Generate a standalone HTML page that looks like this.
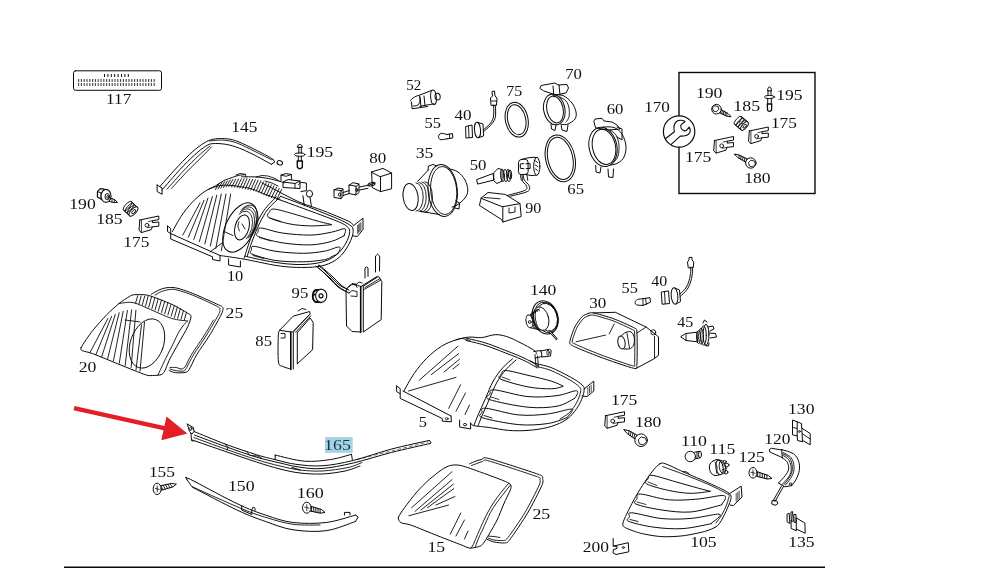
<!DOCTYPE html>
<html><head><meta charset="utf-8"><title>Headlamp parts diagram</title>
<style>
html,body{margin:0;padding:0;background:#fff;width:981px;height:569px;overflow:hidden}
svg{position:absolute;left:0;top:0;display:block}
</style></head><body>
<svg width="981" height="569" viewBox="0 0 981 569">
<rect x="325.1" y="437.1" width="27.6" height="15.7" fill="#a6d3e4"/>
<g fill="none" stroke="#0a0a0a" stroke-width="1" stroke-linejoin="round" stroke-linecap="round">
<rect x="679" y="72.5" width="136" height="121" stroke-width="1.4" stroke-linejoin="miter"/>
<line x1="64" y1="567.3" x2="825" y2="567.3" stroke-width="1.6" stroke-linecap="butt"/>
<line x1="74" y1="408.2" x2="165" y2="428.3" stroke="#e31e24" stroke-width="4.4" stroke-linecap="butt"/>
<polygon points="166.5,416.6 187.4,433.6 161.3,440.3" fill="#e31e24" stroke="none"/>
<rect x="73.5" y="70.8" width="88" height="19.5" rx="2"/>
<line x1="104" y1="75.5" x2="129" y2="75.5" stroke-width="3" stroke-dasharray="1,2.4" stroke-linecap="butt"/>
<line x1="78" y1="80.5" x2="156" y2="80.5" stroke-width="3" stroke="#555" stroke-dasharray="1.2,1.6" stroke-linecap="butt"/>
<line x1="78" y1="84.6" x2="156" y2="84.6" stroke-width="3" stroke="#555" stroke-dasharray="1.2,1.6" stroke-linecap="butt"/>
<circle cx="679.1" cy="131.5" r="15.7" fill="#fff" stroke-width="1.2"/>
<path d="M665.7,138.5 L674.4,131.8 C673.5,128 673.8,124 676.4,121.5 C678.5,119.8 682.5,119.8 685,121.5 L680.8,125.2 C680.6,127 681,128.5 682.2,129.6 C683.5,130.8 685.5,131 686.6,130.2 L689.2,127 C690.6,129.5 690.4,132.5 688.6,134.2 C686.8,136 683.5,136.2 680.3,136.1 L671.2,144.4" stroke-width="1.1"/>
<path d="M167.5,226 L170.7,228.5 L170.7,239 L212.5,256.8 L212.5,259.5 L220,261 L220,255.5"/>
<path d="M170.7,233.6 L220,255.5"/>
<path d="M167.5,226 L167.5,231.5 L170.7,233.6"/>
<path d="M228.6,258.8 L228.6,265 L240.4,267 L240.4,261"/>
<path d="M172.5,231.5 C173.9,229 177.8,221.3 181,216.5 C184.2,211.7 188.2,206.6 192,202.5 C195.8,198.4 200.1,194.8 204,192 C207.9,189.2 212.3,187.7 215.6,185.8 C218.9,183.9 221.2,181.9 224,180.5 C226.8,179.1 230,178.3 232.5,177.4 C235,176.5 236.7,175.8 238.8,175.3 C240.9,174.9 244.1,174.8 245.2,174.7"/>
<path d="M241.5,176.8 C244.1,176.8 252.5,176.7 257,177 C261.5,177.3 264.8,177.9 268.6,178.6 C272.4,179.3 277.4,180.7 280,181.4 C282.6,182.1 283.3,182.7 284,183"/>
<path d="M262,183 C263.3,183.7 266.2,185 270,187 C273.8,189 279.7,192.3 285,195 C290.3,197.7 295.3,200.4 301.6,203 C307.9,205.6 316.3,208.1 322.7,210.5 C329.1,212.9 335.4,215.6 340,217.5 C344.6,219.4 347.8,220.8 350,222 C352.2,223.2 352.5,224.5 353,225"/>
<path d="M209,189 C210.8,188.4 216.3,186.2 220,185.6 C223.7,185 227.3,185.2 231,185.4 C234.7,185.6 238.5,186.4 242,187 C245.5,187.6 247.8,187.7 252,189 C256.2,190.3 262.3,193.3 267,195 C271.7,196.7 277.8,198.6 280,199.3"/>
<path d="M215.3,189.7L219.4,183.1M218,189L222.1,182.3M220.7,188.3L224.8,181.6M223.4,187.6L227.5,180.8M226.1,187L230.2,180M228.8,186.6L232.9,179.4M231.6,187L235.7,179.2M234.3,187.3L238.6,179M237.1,187.7L241.4,178.8M239.8,188.1L244.2,178.6M242.6,188.4L247,178.6M245.3,189L249.8,179M248,189.6L252.6,179.4M250.7,190.2L255.4,179.8M253.4,190.7L258.1,180.2M256.1,191.3L260.9,180.8M258.7,192.3L263.5,181.8M261.2,193.4L266.2,182.8M263.8,194.6L268.8,183.8M266.3,195.7L271.4,184.8M268.8,196.8L274,185.9M271.5,197.7L276.6,187.1M274.1,198.6L279.2,188.3M276.7,199.5L281.7,189.4" stroke-width="0.9"/>
<path d="M182.8,235.1L200,202.8M188.3,237.3L204,200.4M193.8,239.5L208,198M199.3,241.7L212.4,196.5M204.8,243.9L216.8,195.1M210.3,246.1L221.3,194M215.8,248.5L226,194M221.3,250.8L230.7,194" stroke-width="0.9"/>
<path d="M280.8,196.4 C278.7,198.5 271.6,204.6 268.1,209 C264.6,213.4 262.3,217.9 259.7,223.1 C257.1,228.3 254.7,234.4 252.6,240 C250.5,245.6 247.9,254 247,256.8"/>
<path d="M276,197 C274,199.2 267.3,205.7 263.9,210.5 C260.5,215.3 258,220.6 255.5,226 C253,231.4 251,237.4 249.1,242.8 C247.2,248.2 245,255.6 244.2,258.2"/>
<ellipse cx="240" cy="227.5" rx="14.2" ry="26.5" transform="rotate(26 240 227.5)"/>
<ellipse cx="242" cy="227.4" rx="7" ry="12.8" transform="rotate(15 242 227.4)"/>
<path d="M239.0,214.2 A8.2,13.8 15 0 1 246.4,238.7" stroke-width="0.85"/>
<path d="M240.2,212.0 A8.8,14.6 15 0 1 248.1,238.0" stroke-width="0.85"/>
<path d="M241.3,210.1 A9.2,15.2 15 0 1 249.6,237.1" stroke-width="0.85"/>
<path d="M242.6,208.5 A9.4,15.6 15 0 1 251.1,236.3" stroke-width="0.85"/>
<path d="M239,222 C238.8,222.7 237.9,224.5 238,226 C238.1,227.5 239.2,230.2 239.5,231" stroke-width="0.9"/>
<path d="M242,224 L245,229" stroke-width="0.9"/>
<path d="M225,231.9 L233,235.6" stroke-width="0.9"/>
<path d="M210,252 L222,243" stroke-width="0.9"/>
<path d="M280.8,196.4 C284.5,197.8 295.9,202 303.2,204.8 C310.4,207.6 318,210.7 324.3,213.3 C330.6,215.9 336.8,218.2 341.2,220.3 C345.6,222.4 349,224.3 351,225.9 C353,227.5 352.9,228.4 353.1,230.1 C353.3,231.8 353.2,233.2 352.4,235.8 C351.6,238.4 350.1,242.3 348.2,245.6 C346.3,248.9 344,252.6 341.2,255.4 C338.4,258.2 335.4,260.6 331.4,262.5 C327.4,264.4 323.2,265.9 317.3,266.7 C311.4,267.5 303.2,267.6 296.2,267.4 C289.2,267.2 282.1,266.4 275.1,265.3 C268.1,264.2 259.9,262.2 254.1,261.1 C248.3,260 246.1,259.4 240.4,258.5 C234.7,257.6 223.4,256 220,255.5"/>
<path d="M278,199.2 C282.2,200.7 293.1,204.7 303.2,208.4 C313.3,212.2 330.9,218.5 338.4,221.7 C345.9,224.9 346.1,225.6 348,227.5 C349.9,229.4 349.8,230.4 349.5,233 C349.2,235.6 347.8,239.8 346,243 C344.2,246.2 341.8,249.8 339,252.5 C336.2,255.2 333,257.7 329,259.5 C325,261.3 320.5,262.7 315,263.5 C309.5,264.3 302.5,264.7 296,264.5 C289.5,264.3 282.8,263.5 276,262.5 C269.2,261.5 260.2,259.6 255,258.5 C249.8,257.4 246.7,256.4 245,256"/>
<path d="M331.4,224.5 C329,223.9 323.2,222.6 317.3,221 C311.4,219.4 303.4,216.7 296.2,214.7 C289,212.7 278.8,209.5 274.4,209.1 C269.9,208.7 270.4,210.6 269.5,212 C268.6,213.4 265.5,215.5 268.8,217.5 C272.1,219.5 282.3,222.4 289.2,223.8 C296.1,225.2 303.3,225.7 310.3,225.9 C317.3,226.1 327.9,225 331.4,224.8"/>
<path d="M344,235.8 C344.2,235.1 345.4,232.7 345.4,231.5 C345.4,230.3 346.3,228.6 344,228.7 C341.7,228.8 337,231.1 331.4,232.2 C325.8,233.3 318.5,235 310.3,235.1 C302.1,235.2 290.4,234.2 282.2,233 C274,231.8 265.1,228.2 261.1,228 C257.1,227.8 258.5,230.6 258,232 C257.5,233.4 254.3,234.7 258.3,236.5 C262.3,238.3 273.5,241.4 282.2,242.8 C290.9,244.2 302.1,245.1 310.3,244.9 C318.5,244.7 325.8,242.9 331.4,241.4 C337,239.9 341.9,236.7 344,235.8"/>
<path d="M331.4,256.8 C332.3,256.3 335.6,255.2 337,254 C338.4,252.8 339.6,251 339.8,249.8 C340,248.6 341,246.8 338.4,247 C335.8,247.2 330.2,250.1 324.3,251.2 C318.4,252.2 311.4,253.3 303.2,253.3 C295,253.3 283.3,252.4 275.1,251.2 C266.9,250 258,246.5 254.1,246.3 C250.2,246.1 251.8,248.7 251.5,250 C251.2,251.3 248.1,252.3 252,254 C255.9,255.7 266.6,259.1 275.1,260.4 C283.6,261.7 295,261.9 303.2,261.8 C311.4,261.7 319.6,260.5 324.3,259.7 C329,258.9 330.2,257.3 331.4,256.8"/>
<path d="M270,218 L281,221.5" stroke-width="0.8"/>
<path d="M259.5,237.5 L271,241" stroke-width="0.8"/>
<path d="M253,255.5 L264,258.5" stroke-width="0.9"/>
<path d="M353.1,226 L363,218.2 L363,229.5 L357.4,236.5 L352.4,235.8"/>
<path d="M357.6,225.5L357.6,233.5M358.7,224.5L358.7,232.5M359.8,223.5L359.8,231.5M360.9,222.5L360.9,230.5" stroke-width="0.7"/>
<path d="M281,180.5 L281,175 L286,173.6 L291.4,174.5 L291.4,179.5"/>
<path d="M281,175 L286,176.3 L291.4,174.5" stroke-width="0.9"/>
<path d="M283,182 L288,179.5 L300,181 L300,188.5 L283,187.5 L283,182 L295,183.5 L300,181"/>
<path d="M295,183.5 L295,188" stroke-width="0.9"/>
<path d="M298.6,184.5 L300.5,182.3 L306.4,183 L306.4,190.7 L301,191.5"/>
<ellipse cx="309.5" cy="193.8" rx="3.1" ry="3.4"/>
<path d="M302.9,195.7 L304.3,205.7"/>
<path d="M310,197 L311.4,206.5"/>
<path d="M236,175 L240,173.5 L245.5,174.3 L246,177" stroke-width="0.9"/>
<path d="M256,177 L262,175.5 L268,176 L275,178.5 L279,181" stroke-width="0.9"/>
<path d="M265,181 L272,183 L278,186" stroke-width="0.9"/>
<path d="M316,266 C317,266.8 319.7,269 322,271 C324.3,273 327.2,275.3 330,278 C332.8,280.7 335.8,284.5 339,287 C342.2,289.5 347.3,292 349,293" stroke-width="1"/>
<path d="M319,265 C320,265.8 322.7,268 325,270 C327.3,272 330.3,274.5 333,277 C335.7,279.5 338.3,282.8 341,285 C343.7,287.2 347.7,289.2 349,290" stroke-width="1"/>
<path d="M160,186.4 C163.1,182.9 173.1,171.5 178.6,165.7 C184.1,159.9 188.6,155.2 192.9,151.4 C197.2,147.6 201,144.9 204.3,142.9 C207.6,140.9 209.6,140 212.9,139.3 C216.2,138.6 220.5,138.4 224.3,138.6 C228.1,138.8 231.4,139.3 235.7,140.7 C240,142.1 245.2,144.8 250,147.1 C254.8,149.4 260.5,152.3 264.3,154.3 C268.1,156.3 271.5,158.5 272.9,159.3"/>
<path d="M162,190 C165,186.6 174.6,175.3 180,169.5 C185.4,163.7 190,159.1 194.3,155.2 C198.6,151.3 202.6,148.1 205.7,146.2 C208.8,144.3 209.6,143.9 212.9,143.6 C216.2,143.3 221.4,143.6 225.7,144.3 C230,145 234.1,146.2 238.6,147.9 C243.1,149.6 247.4,151.6 252.9,154.3 C258.4,157 268.3,162.6 271.4,164.3"/>
<path d="M167.1,189.1 C170,185.9 179.1,175.6 184.3,170 C189.6,164.4 194.3,159.7 198.6,155.7 C202.9,151.7 208.1,147.6 210,146" stroke-width="0.9"/>
<path d="M171.4,188.5 C174,185.7 182.1,176.7 187.1,171.5 C192.1,166.3 197.3,161.5 201.4,157.4 C205.5,153.3 209.7,148.7 211.4,147" stroke-width="0.9"/>
<path d="M209.5,141 C211.7,140.8 218.4,139.8 222.9,140.1 C227.4,140.4 231.3,141 236.7,142.9 C242,144.8 249.2,148.7 255,151.5 C260.8,154.3 268.8,158.4 271.6,159.8" stroke-width="0.9"/>
<path d="M272.9,159.3 L274.8,162 L271.4,164.3"/>
<ellipse cx="279.8" cy="162.8" rx="2.8" ry="2.1" transform="rotate(20 279.8 162.8)"/>
<path d="M157.1,185 L162.1,188 L162.1,194.3 L157.1,191.5 L157.1,185"/>
<path d="M297.3,147 C297.3,143.6 302.3,143.6 302.3,147 Z"/>
<path d="M298.8,147 L298.8,153.2"/>
<path d="M301.3,147 L301.3,153.2"/>
<ellipse cx="299.7" cy="154.6" rx="5.2" ry="1.7"/>
<path d="M298.3,156.3 L298.3,161"/>
<path d="M301.3,156.3 L301.3,161"/>
<path d="M297.2,161 L297.4,167.3 Q299.8,170.3 302.3,167.3 L302.4,161 Z" stroke-width="1.4"/>
<path d="M371.6,172 L383,168.4 L391.6,173.1 L380.5,176.6Z"/>
<path d="M371.6,172 L372.3,187.7 L380.5,191.6 L380.5,176.6"/>
<path d="M391.6,173.1 L391.6,188.8 L380.5,191.6"/>
<path d="M334,190 L334,197.5 L341,198.5 L341,191Z"/>
<path d="M334,190 L338,188 L343,189 L341,191"/>
<path d="M343,189 L343,196.5 L341,198.5"/>
<ellipse cx="339.5" cy="194.6" rx="1" ry="1.6"/>
<path d="M343,192.5 L349.5,190.5"/>
<path d="M343,195.5 L349.5,193.5"/>
<path d="M349,185.3 L349,193.5 L356,195 L356,186.6Z"/>
<path d="M349,185.3 L353,182.7 L359,184 L356,186.6"/>
<path d="M359,184 L359,192.5 L356,195"/>
<ellipse cx="356.8" cy="190" rx="1" ry="1.6"/>
<path d="M359.5,187 L368,185.3"/>
<path d="M359.5,190 L368,188.3"/>
<ellipse cx="371.5" cy="184.2" rx="3.6" ry="1.6" transform="rotate(-15 371.5 184.2)"/>
<path d="M368,185.5 L375,183"/>
<ellipse cx="410.6" cy="197" rx="7.5" ry="13.6" transform="rotate(-8 410.6 197)"/>
<path d="M416,182.8 A7.2,14.2 0 0 1 416,211.2" stroke-width="0.9"/>
<path d="M419,182.4 A7.2,14.6 0 0 1 419,211.6" stroke-width="0.9"/>
<path d="M422,182 A7.3,15 0 0 1 422,212" stroke-width="0.9"/>
<path d="M425,181.7 A7.4,15.3 0 0 1 425,212.3" stroke-width="0.9"/>
<path d="M417.6,181.5 L428.5,169.8"/>
<path d="M420,211.3 L439.4,214.5"/>
<ellipse cx="442.7" cy="190.5" rx="14.6" ry="26" transform="rotate(-5 442.7 190.5)"/>
<ellipse cx="443.7" cy="190.5" rx="13" ry="24" transform="rotate(-5 443.7 190.5)" stroke-width="0.9"/>
<path d="M449,168.7 C450.5,169.2 455.3,170.1 458,172 C460.7,173.9 463.4,177 465,180 C466.6,183 467.8,187 467.8,190 C467.8,193 466.8,195.5 465,198 C463.2,200.5 459.2,203.5 457,205 C454.8,206.5 452.8,206.7 452,207"/>
<path d="M428,170 L428.5,166 L433,164.5 L437,166"/>
<path d="M456,201 L459.5,203 L459,209 L455,208"/>
<path d="M477,179.5 L493,173.5 L494,180 L478,184Z"/>
<path d="M494,172.5 L498,168.5 L502,169.5 L502,181 L497,183.5 L494,181Z"/>
<ellipse cx="502.5" cy="175.5" rx="2" ry="6.2" transform="rotate(-5 502.5 175.5)" stroke-width="0.9"/>
<ellipse cx="505.5" cy="175.5" rx="2" ry="6.2" transform="rotate(-5 505.5 175.5)" stroke-width="0.9"/>
<ellipse cx="508.5" cy="175.5" rx="2" ry="6.2" transform="rotate(-5 508.5 175.5)" stroke-width="0.9"/>
<ellipse cx="510" cy="174.5" rx="1.6" ry="4.2" transform="rotate(-5 510 174.5)"/>
<path d="M481.2,198 L488,192.5 L505.2,194.4 L520,203.6 L502.8,206.7Z"/>
<path d="M481.2,198 L479.4,205.4 L501.5,219.5 L502.8,222 L521.2,216.5 L520,203.6"/>
<path d="M502.8,206.7 L502.8,222"/>
<path d="M484,197.5 L500,198.8" stroke-width="0.9"/>
<path d="M509,208 L509,213 L515,212 L515,207" stroke-width="0.9"/>
<path d="M520.5,174.5 C520.7,175.4 520.5,178.1 521.5,180 C522.5,181.9 526,184.2 526.5,186 C527,187.8 527.8,188.9 524.5,190.5 C521.2,192.1 509.9,194.7 507,195.5"/>
<path d="M523.3,174.5 C523.5,175.4 523.3,178.1 524.3,180 C525.3,181.9 528.8,184.1 529.3,186 C529.8,187.9 530.6,189.8 527.4,191.5 C524.2,193.2 512.9,195.5 510,196.3"/>
<path d="M521,159.6 L527,158 L534,157.2 L537.5,157.8"/>
<path d="M525,174.4 L531,175.5 L536.5,175.2"/>
<ellipse cx="536.8" cy="166.3" rx="3.1" ry="8.9" fill="#fff"/>
<path d="M535.5,161 L537.5,162.5" stroke-width="0.9"/>
<path d="M535.3,165 L537.8,166.5" stroke-width="0.9"/>
<path d="M535.5,169 L537.5,170.5" stroke-width="0.9"/>
<path d="M518.5,162.3 Q518.6,159.9 521,159.6 L525.2,159.2 Q527.8,159.4 528,162 L528.2,171.6 Q528,174.2 525.2,174.4 L521,174.6 Q518.6,174.5 518.5,172 Z" fill="#fff"/>
<path d="M523.8,163.6 L520.3,164 L520.3,168.3 L523.8,168.6" stroke-width="1"/>
<path d="M526,163.8 L530,163.5 L530.2,168.5 L526.3,168.6" stroke-width="1"/>
<path d="M522,174.5 L522.5,180.5" stroke-width="0.9"/>
<path d="M526.8,174.4 L527.8,180.5" stroke-width="0.9"/>
<ellipse cx="516.7" cy="119.7" rx="11.3" ry="17.6" transform="rotate(-12 516.7 119.7)"/>
<ellipse cx="516.7" cy="119.7" rx="9" ry="15.2" transform="rotate(-12 516.7 119.7)"/>
<ellipse cx="560.3" cy="158.4" rx="14.6" ry="23.7" transform="rotate(-13 560.3 158.4)"/>
<ellipse cx="560.3" cy="158.4" rx="12.4" ry="21.4" transform="rotate(-13 560.3 158.4)"/>
<ellipse cx="554.3" cy="109.5" rx="10.6" ry="15.5" transform="rotate(-12 554.3 109.5)"/>
<ellipse cx="555" cy="109.5" rx="8.2" ry="13.6" transform="rotate(-12 555 109.5)"/>
<path d="M553,95 C554.7,95.1 559.8,94.2 563,95.5 C566.2,96.8 569.8,100.2 572,103 C574.2,105.8 575.5,109.3 576,112 C576.5,114.7 576.3,117 575,119 C573.7,121 570.2,123.1 568,124 C565.8,124.9 563,124.4 562,124.5"/>
<path d="M560,97 C561,97.7 564.5,99.2 566,101 C567.5,102.8 568.5,105.3 569,108 C569.5,110.7 569.5,114.7 569,117 C568.5,119.3 566.5,121.2 566,122" stroke-width="0.9"/>
<path d="M540,88 L541,85.5 L555,83 L558,85 L567,84.5 L568.5,88 L566,93 L556,95 L544,91Z"/>
<path d="M553,86 L554,97"/>
<path d="M559,85 L560,95"/>
<path d="M551,124 L551.5,129 L555,130.5 L556,125"/>
<path d="M561,124 L562,130 L567,131.5 L568,125"/>
<ellipse cx="603" cy="146.8" rx="13.9" ry="19.8" transform="rotate(-12 603 146.8)"/>
<ellipse cx="604" cy="146.8" rx="11.5" ry="17.8" transform="rotate(-12 604 146.8)"/>
<path d="M603,127 C604.8,127.1 610.8,126.3 614,127.5 C617.2,128.7 620,130.9 622,134 C624,137.1 625.7,142.2 626,146 C626.3,149.8 625.3,154.2 624,157 C622.7,159.8 620.2,161.7 618,163 C615.8,164.3 612.2,164.7 611,165"/>
<path d="M610,130 C611,130.8 614.5,132.5 616,135 C617.5,137.5 618.7,141.5 619,145 C619.3,148.5 618.8,153.2 618,156 C617.2,158.8 614.7,161 614,162" stroke-width="0.9"/>
<path d="M594,121 L595,119 L602,118.3 L604,121 L612,122 L617,125 L620,129 L609,130 L596,128Z"/>
<path d="M595.7,165.3 L596,172 L600,173 L601,167"/>
<path d="M608,169 L608.5,177 L613,177.5 L613.5,169"/>
<path d="M617,127 L622,129 L622,140 L617,137"/>
<ellipse cx="433.5" cy="97.3" rx="2.8" ry="7.4" transform="rotate(-5 433.5 97.3)"/>
<ellipse cx="437.6" cy="96.6" rx="2.6" ry="3.4" transform="rotate(-5 437.6 96.6)"/>
<path d="M418.7,95.5 L431.4,90.5"/>
<path d="M419.8,106.3 L434,103.8"/>
<path d="M410.5,100.5 C410.9,100.1 411.6,98.8 413,98 C414.4,97.2 417.5,95.2 418.7,95.5 C419.9,95.8 420.1,98.4 420,100 C419.9,101.6 419.2,104 418,105 C416.8,106 413.8,105.8 413,106"/>
<path d="M411.5,102 L412,108.8 L427.5,106.5"/>
<path d="M420,97 L421,106.5"/>
<path d="M424,96 L425,105.5"/>
<path d="M447,134.5 C446.1,134.3 442.8,133.2 441.5,133.3 C440.2,133.4 439.5,134.3 439,135 C438.5,135.7 438.2,136.7 438.5,137.5 C438.8,138.3 439.6,139.5 441,139.7 C442.4,139.9 446,139 447,138.8"/>
<path d="M447,134.5 L452.5,133.6 L452.8,138 L447,138.8"/>
<path d="M449.5,134 L449.7,138.5" stroke-width="0.9"/>
<path d="M466,126.5 L472,125 L472.5,137.5 L466.3,138Z"/>
<path d="M468.5,126 L469,137.5" stroke-width="0.9"/>
<ellipse cx="477.5" cy="130" rx="3" ry="7.7" transform="rotate(-5 477.5 130)"/>
<path d="M478,122.5 L483,124 L483.6,136 L478.5,137.7"/>
<path d="M483.6,129.5 C484.6,128.7 487.8,126.4 489.4,124.5 C491,122.6 492.5,120.4 493.2,118 C493.9,115.6 493.8,112.2 493.8,110 C493.8,107.8 493.5,105.8 493.4,105"/>
<path d="M483.6,131.5 C484.7,130.5 488.5,127.7 490.4,125.5 C492.3,123.3 494.1,121.1 495,118.5 C495.9,115.9 495.6,112.2 495.6,110 C495.6,107.8 495.3,105.8 495.2,105"/>
<path d="M491,105 L490.5,98 L492.5,96 L492,91.5 L494.5,91 L495,96 L497,98 L496.5,105Z"/>
<path d="M491.5,101 L496.5,101" stroke-width="0.9"/>
<path d="M346,291 L346.5,326 L352,331.5 L360.7,332"/>
<path d="M346,291 C346.3,290.3 346.8,288.1 348,287 C349.2,285.9 350.8,284.6 353,284.5 C355.2,284.4 359.7,286.2 361,286.5"/>
<path d="M360.7,286.9 L360.7,332.2" stroke-width="1.6"/>
<path d="M363.3,286 L363.3,332"/>
<path d="M363.3,286 L378.6,276.4 L381.8,281.6 L381.2,319.6 L364,331.5"/>
<path d="M361,286.5 L377,276.5"/>
<path d="M365,287.5 L380,278.5" stroke-width="0.9"/>
<path d="M364,289.5 L381,280" stroke-width="0.9"/>
<path d="M349,287 L352,283.5 L356,284 L357,287.5" stroke-width="0.9"/>
<path d="M355,285.5 L359,282 L362,283" stroke-width="0.9"/>
<path d="M349,293 L352,290.5 L357,291.5 L357,296.5 L351,296" stroke-width="0.9"/>
<path d="M375.5,272 L375.5,256 L377.5,254.2 L379.7,256 L379.5,271"/>
<path d="M365,278 L365,268 L366.5,266.9 L368,268 L368,276.5"/>
<path d="M316.5,266.5 C317.6,267.4 320.8,269.9 323,272 C325.2,274.1 327.5,276.5 330,279 C332.5,281.5 335.2,284.8 338,287 C340.8,289.2 345.5,291.2 347,292"/>
<path d="M318.5,265.5 C319.6,266.4 322.8,268.9 325,271 C327.2,273.1 329.5,275.6 332,278 C334.5,280.4 337.3,283.6 340,285.5 C342.7,287.4 346.7,288.8 348,289.5"/>
<ellipse cx="316.3" cy="295.9" rx="3.6" ry="6.1" stroke-width="1.8"/>
<path d="M316.3,289.8 L321.2,289.2"/>
<path d="M316.3,302 L321.2,302.4" stroke-width="1.5"/>
<ellipse cx="321.2" cy="295.8" rx="5.6" ry="6.6" fill="#fff" stroke-width="1.1"/>
<circle cx="321" cy="295.8" r="2" stroke-width="1.2"/>
<path d="M313.5,292 L316,290.5" stroke-width="1.2"/>
<path d="M313,296 L315,294" stroke-width="1.2"/>
<path d="M279.6,330.3 L293.2,316.2 L309.6,311.5 L310.2,314 L292.6,332"/>
<path d="M279.6,330.3 L290.8,332"/>
<path d="M279.6,330.3 C279.4,331.2 278.5,330.7 278.3,336 C278.1,341.3 277.7,356.9 278.5,362 C279.3,367.1 280.9,365.3 283,366.5 C285.1,367.7 289.5,368.6 290.8,369"/>
<path d="M290.8,331.5 L290.8,369.5" stroke-width="1.6"/>
<path d="M293.3,332 L293.3,369"/>
<path d="M297.3,332.6 L297.3,363.8"/>
<path d="M297.3,332.6 L310.2,318 L313.2,322.6 L312.6,349.7 L297.3,363.8"/>
<path d="M293.3,332 L309.6,314.5" stroke-width="0.9"/>
<path d="M295.5,332.3 L310.8,316" stroke-width="0.9"/>
<path d="M298,311 L302,308.5 L306,309.5" stroke-width="0.9"/>
<path d="M281,333.5 L285,333.5 L285,338 L281,338" stroke-width="0.9"/>
<path d="M151.4,294.2 C152.5,293.6 156.6,291.1 158.8,290.1 C161,289.1 163.6,288.1 166.1,287.8 C168.6,287.5 172.3,287.3 175.3,287.8 C178.3,288.3 182.6,289.7 186.3,291 C190,292.3 195.2,294.4 200,296.5 C204.8,298.6 215.1,303.3 218.4,304.8 C221.7,306.3 221.3,305.9 222,306.6 C222.7,307.3 223.3,307.9 223,309.4 C222.7,310.9 222.3,312.7 220.2,316.7 C218.1,320.7 212.8,330.1 209.3,335.8 C205.8,341.5 199.4,350.1 196.6,354.8 C193.8,359.5 191.9,364.8 190.3,367.4 C188.7,370 188.3,371.4 186.1,372.2 C183.9,373 178,372.9 175.5,372.7 C173,372.5 170.1,370.9 169.2,370.6" stroke-width="1"/>
<path d="M155.1,295.1 C156.1,294.6 159.4,292.3 161.5,291.5 C163.6,290.7 166.8,289.9 168.9,289.6 C171,289.3 172.7,289.1 175.3,289.6 C177.9,290.1 182.6,291.5 186.3,292.8 C190,294.1 195.3,296.2 200,298.3 C204.7,300.4 214.5,304.9 217.5,306.6 C220.5,308.3 219.7,308.2 219.8,309.4 C219.9,310.6 220.5,310.9 218.4,314.9 C216.3,318.9 209.8,329.8 206.1,335.8 C202.4,341.8 196.5,349.9 193.5,354.8 C190.5,359.7 187.7,366.1 186.1,368.5 C184.5,370.9 184.6,370.8 182.9,371.1 C181.2,371.4 176.9,370.8 175,370.5 C173.1,370.2 170.8,369.2 170,369" stroke-width="0.9"/>
<path d="M213.5,320 C211.9,322.6 207.7,330 204,335.8 C200.3,341.6 194.6,349.6 191.4,354.8 C188.2,360 186.7,364.5 185,366.9 C183.3,369.3 181.7,368.6 181,369" stroke-width="0.9"/>
<path d="M170,367.5 C171,367.5 174.2,367.2 176,367.5 C177.8,367.8 180.2,368.8 181,369" stroke-width="0.9"/>
<path d="M81.2,347.4 C82.5,344.7 89.2,335 92.6,330.7 C96,326.4 103.1,318.5 106.6,314.9 C110.1,311.3 115.9,306 119,303.5 C122.1,301 127.4,297.6 129.5,296.4 C131.6,295.2 132.2,294.8 134.8,294.7 C137.4,294.6 143.9,294.2 148.8,295.5 C153.7,296.8 166.5,302 171.7,304.3 C176.9,306.6 184.9,311.5 187.5,313.1 C190.1,314.7 191,314.7 191,316.6 C191,318.5 189.1,323.7 187.5,327.2 C185.9,330.7 181,338.8 178.7,343 C176.4,347.2 171.8,355.1 169.9,358.8 C168,362.5 165.9,369 164.7,371.1 C163.5,373.2 162.7,374.1 161.1,374.7 C159.5,375.3 154.5,375.5 152.4,375.5 C150.3,375.5 149.5,376.1 145.3,374.7 C141.1,373.3 127.7,367.8 120.7,365 C113.7,362.2 97.6,355.5 92.6,353.6 C87.6,351.7 84.4,351.7 82.9,350.9 C81.4,350.1 79.9,350.1 81.2,347.4Z"/>
<path d="M119,303.5 C121.3,303.4 127.7,301.6 133,302.6 C138.3,303.6 144.2,307 150.6,309.6 C157,312.2 165.5,316.5 171.7,318.4 C177.8,320.3 184.9,320.6 187.5,321" stroke-width="0.9"/>
<path d="M187.5,321 C186.2,322.5 182.6,325.8 180,330 C177.4,334.2 174.7,340.7 172,346 C169.3,351.3 166.3,357.2 164,362 C161.7,366.8 159,372.8 158,375" stroke-width="0.9"/>
<path d="M137.7,295.7L135.6,303M141.2,295.9L138.9,304.1M144.7,296.2L142.2,305.1M148.1,296.4L145.5,306.2M151.5,297L148.7,307.3M154.8,298.1L151.9,308.6M158.1,299.2L155.1,309.9M161.4,300.3L158.3,311.1M164.7,301.4L161.5,312.4M167.9,302.8L164.7,313.7M171,304.3L167.9,314.9M174.2,305.8L171.2,316.1M177.3,307.2L174.4,317.4M180.4,308.7L177.6,318.4M183.5,310.4L181,319.2M186.5,312.1L184.3,320.1" stroke-width="0.9"/>
<path d="M90,352.5L107.9,318.5M95.9,354.6L111.6,316.4M101.7,356.7L115.3,314.4M107.6,358.8L119.2,312.7M113.4,361L123.2,311.3M119.3,363.2L127.4,310.5M125.2,365.4L131.6,310M131.1,367.5L135.9,310.3" stroke-width="0.9"/>
<path d="M136,369.8L141.5,324.8M140,371.2L144.5,322.2" stroke-width="0.9"/>
<ellipse cx="147" cy="343.5" rx="16.5" ry="25.5" transform="rotate(20 147 343.5)" stroke-width="0.9"/>
<path d="M125,320 L140,322" stroke-width="0.9"/>
<path d="M396.6,386 L400.2,388.5 L400.2,398.4 L442.3,418.5 L442.3,421.2 L451.4,421.8 L451,416"/>
<path d="M403,391 L451,416"/>
<path d="M396.6,386 L396.6,391.5 L400.2,393.8"/>
<path d="M459.6,420 L459.6,427 L470.6,429 L470.6,423"/>
<ellipse cx="446.8" cy="418.8" rx="1.4" ry="1.1" stroke-width="0.8"/>
<ellipse cx="465" cy="424.6" rx="1.6" ry="1.2" stroke-width="0.9"/>
<path d="M403.9,391 C405.6,388.1 410.2,379.2 414,373.7 C417.8,368.2 422.1,362.8 426.7,358.2 C431.3,353.6 436.5,349.4 441.4,346.3 C446.3,343.2 451.4,341.4 456,339.9 C460.6,338.4 464.5,337.5 468.8,337.1 C473.1,336.7 477.2,338 481.6,337.6 C486,337.2 490.9,334.9 495.1,334.7 C499.3,334.5 502.7,335.3 506.8,336.6 C510.9,337.9 515.5,340.2 520,342.5 C524.5,344.8 531,348.2 533.8,350.1 C536.6,352 536.2,353.4 536.7,354"/>
<path d="M466,338 C469,338.8 478.2,340.8 484,342.5 C489.8,344.2 494,346 500.5,348.5 C507,351 516.7,354.7 522.9,357.5 C529.1,360.3 535.1,364.1 537.5,365.4"/>
<path d="M466,340.5 C469,341.2 478.2,343.2 484,345 C489.8,346.8 494,348.5 500.5,351 C507,353.5 516.7,357.2 522.9,360 C529.1,362.8 535.1,366.7 537.5,368"/>
<path d="M535,354.5 L536,366" stroke-width="0.9"/>
<path d="M537.5,356 L538.5,367" stroke-width="0.9"/>
<path d="M456,339.9 C457,339.7 459.7,338.4 462,338.5 C464.3,338.6 468.7,340.2 470,340.5" stroke-width="0.9"/>
<path d="M533.8,351.5 L541,350.5 L542,356.5 L535,358"/>
<path d="M541,351 L549.5,349.2 L551.2,350.5 L550.5,356 L542,357"/>
<ellipse cx="548" cy="352.7" rx="1.2" ry="2.6" stroke-width="0.9"/>
<path d="M408.5,391 L456,377.4" stroke-width="0.9"/>
<path d="M419.4,380.1 L457.8,346.3" stroke-width="0.9"/>
<path d="M431.3,374.6 L458.7,353.6" stroke-width="0.9"/>
<path d="M444.1,371.9 L459.6,359.1" stroke-width="0.9"/>
<path d="M453,369 L459,364" stroke-width="0.9"/>
<path d="M448.7,408.4 L460.6,384.7" stroke-width="0.9"/>
<path d="M456,411.2 L465.5,393" stroke-width="0.9"/>
<path d="M465,414.5 L469.5,405" stroke-width="0.9"/>
<path d="M512.6,358.8 C511,360.3 506.1,363.9 502.9,367.6 C499.7,371.3 496.1,376 493.2,381.1 C490.3,386.2 488.1,392.7 485.5,398.5 C482.9,404.3 479.6,411.4 477.7,415.9 C475.8,420.4 474.5,424 473.9,425.6"/>
<path d="M516,360 C514.3,361.6 509.2,365.7 506,369.5 C502.8,373.3 499.3,377.9 496.5,383 C493.7,388.1 491.5,394.3 489,400 C486.5,405.7 483.3,412.7 481.5,417 C479.7,421.3 478.6,424.5 478,426"/>
<path d="M530,360.8 C531.1,361.3 533.2,362.6 536.7,363.7 C540.2,364.8 545.6,365.4 551.2,367.6 C556.9,369.9 565.4,374.3 570.6,377.2 C575.8,380.1 580,382.7 582.2,385 C584.5,387.3 584.4,387.9 584.1,390.8 C583.8,393.7 582.2,398.5 580.3,402.4 C578.4,406.3 575.4,410.8 572.5,414 C569.6,417.2 567,419.4 562.8,421.7 C558.6,423.9 553.2,426.1 547.4,427.5 C541.6,428.9 534.5,429.9 528,430.4 C521.5,430.9 515.1,430.9 508.7,430.4 C502.2,429.9 495.1,428.3 489.3,427.5 C483.5,426.7 477,426.4 473.9,425.6 C470.8,424.9 471.2,423.4 470.6,423"/>
<path d="M536.7,366.5 C539.1,367.2 545.6,368.3 551,370.5 C556.4,372.7 564.2,376.8 569,379.5 C573.8,382.2 577.6,384.9 579.5,387 C581.4,389.1 580.9,389.5 580.5,392 C580.1,394.5 578.8,398.6 577,402 C575.2,405.4 572.3,409.7 569.5,412.5 C566.7,415.3 561.6,417.9 560,419" stroke-width="0.9"/>
<path d="M562.8,385.9 C560.9,385.1 557,382.9 551.2,381.1 C545.4,379.3 535.6,377.1 528,375.3 C520.4,373.5 510.2,370.7 505.8,370.5 C501.4,370.3 502.3,372.6 501.5,374 C500.7,375.4 496.5,377.1 500.9,379.2 C505.3,381.3 519.6,385.3 528,386.9 C536.4,388.5 545.4,388.9 551.2,388.8 C557,388.7 560.9,386.9 562.8,386.5"/>
<path d="M574.4,398.5 C574.9,397.7 577.2,395 577.4,393.7 C577.6,392.4 578.8,390.5 575.4,390.8 C572,391.1 564.9,394.6 557,395.6 C549.1,396.6 538.5,397.6 528,396.6 C517.5,395.6 500.5,390.2 494.2,389.8 C487.9,389.4 490.8,392.4 490,394 C489.2,395.6 483,397.3 489.3,399.5 C495.6,401.7 516.7,406.1 528,407.2 C539.3,408.3 549.3,407.6 557,406.2 C564.7,404.8 571.5,399.8 574.4,398.5"/>
<path d="M566.7,417.8 C567.5,416.8 570.9,413.4 571.5,412 C572.1,410.6 574.6,408.8 570.6,409.1 C566.6,409.4 556.1,413 547.4,414 C538.7,415 528.7,415.9 518.4,414.9 C508.1,413.9 491.6,408.6 485.5,408.2 C479.4,407.8 482.5,410.9 482,412.5 C481.5,414.1 476.5,415.8 482.6,417.8 C488.7,419.8 507.6,423.6 518.4,424.6 C529.2,425.6 539.3,424.7 547.4,423.6 C555.5,422.5 563.5,418.8 566.7,417.8"/>
<path d="M502,377 L510,380" stroke-width="0.8"/>
<path d="M491,397 L499,399.5" stroke-width="0.8"/>
<path d="M484,415.5 L492,418" stroke-width="0.9"/>
<path d="M584,389 L593.8,381.1 L593.8,391 L587,396.6 L582,396"/>
<path d="M587.8,387.8L587.8,394.3M589.5,386.5L589.5,393M591.2,385.2L591.2,391.7" stroke-width="0.7"/>
<ellipse cx="545.2" cy="317.4" rx="12.6" ry="17" transform="rotate(-18 545.2 317.4)" stroke-width="1.1"/>
<ellipse cx="546.2" cy="317.3" rx="11.3" ry="15.6" transform="rotate(-18 546.2 317.3)" stroke-width="0.9"/>
<ellipse cx="547.1" cy="317.2" rx="10" ry="14.2" transform="rotate(-18 547.1 317.2)" stroke-width="0.9"/>
<ellipse cx="541.2" cy="318.6" rx="7.4" ry="12" transform="rotate(-15 541.2 318.6)" stroke-width="0.9" fill="#fff"/>
<path d="M533.5,313.3 A3.2,7.2 -12 0 0 533.5,327.7" stroke-width="0.9"/>
<path d="M535.5,312.4 A3.2,8.1 -12 0 0 535.5,328.6" stroke-width="0.9"/>
<path d="M537.5,311.5 A3.2,9.0 -12 0 0 537.5,329.5" stroke-width="0.9"/>
<path d="M539.5,310.6 A3.2,9.9 -12 0 0 539.5,330.4" stroke-width="0.9"/>
<path d="M530,315 L539.5,309" stroke-width="0.9"/>
<path d="M530.5,327.8 L540,330" stroke-width="0.9"/>
<ellipse cx="529.4" cy="321.4" rx="3.3" ry="6.4" transform="rotate(-10 529.4 321.4)" fill="#fff"/>
<circle cx="529.8" cy="322" r="1.4" stroke-width="0.9"/>
<path d="M550,332 L553.5,335.5 L556.5,339" stroke-width="2"/>
<path d="M550,332 L553.5,335.5 L556.5,339" stroke="#fff" stroke-width="0.7"/>
<path d="M588.3,313.5 C589.6,313.1 590.6,312.3 593.5,312.9 C596.4,313.5 608.3,316.8 613,318.5 C617.7,320.2 631,326.1 633.8,327.7 C636.6,329.3 636.5,327.8 636.9,332 C637.3,336.2 637.3,359.8 636.9,364 C636.5,368.2 638.1,369.1 633.8,368.3 C629.5,367.5 607,359.6 600,357 C593,354.4 577,348 573.5,346.2 C570,344.4 569.6,344 569.8,341.8 C570,339.6 573.4,329.9 574.8,327 C576.2,324.1 580.6,318.2 582.2,316.6 C583.8,315 587,313.9 588.3,313.5Z"/>
<path d="M589,315.6 C590.2,315.2 591.2,314.6 594,315.2 C596.8,315.8 608.5,319.1 613,320.8 C617.5,322.5 629.8,328.2 632.3,329.6 C634.8,331 634.3,329.2 634.6,333 C634.9,336.8 634.9,358.7 634.6,362.5 C634.3,366.3 636.3,366.6 632.3,365.7 C628.3,364.8 606.7,357 600,354.5 C593.3,352 578.2,345.6 575,344 C571.8,342.4 572.1,342.9 572.3,341 C572.5,339.1 575.7,330.1 577,327.5 C578.3,324.9 582.1,319.9 583.5,318.5 C584.9,317.1 587.8,316 589,315.6Z" stroke-width="0.9"/>
<path d="M593.5,312.9 L615.4,312.3 L646.2,327.1 L657.2,335.7 L658.5,337 L658.5,355.4 L653.5,359.1 L636.3,368.3"/>
<path d="M636.9,333 L646.2,327.1" stroke-width="0.9"/>
<path d="M654.5,336.5 L654.5,358" stroke-width="0.9"/>
<ellipse cx="653.3" cy="332.3" rx="2.4" ry="2.6" stroke-width="0.9"/>
<path d="M576,341.8 L605.5,335.1" stroke-width="0.9"/>
<path d="M614.2,324 L609.2,333.8" stroke-width="0.9"/>
<ellipse cx="621.5" cy="342.5" rx="3.6" ry="6.6" transform="rotate(-10 621.5 342.5)"/>
<path d="M621,336 C621.8,335.4 624.3,333 626,332.3 C627.7,331.6 629.7,331.3 631,332 C632.3,332.7 633.5,334.5 634,336.5 C634.5,338.5 634.6,342 634,344 C633.4,346 632.2,347.7 630.5,348.5 C628.8,349.3 625.1,348.9 624,349"/>
<path d="M627,333 L629.5,348" stroke-width="0.9"/>
<path d="M643,298.7 C642.1,298.8 638.8,298.9 637.5,299.5 C636.2,300.1 635.4,301.1 635.2,302 C635,302.9 635.2,304.2 636.5,304.8 C637.8,305.4 641.9,305.3 643,305.4"/>
<path d="M643,298.7 L650,297.6 L650.5,302.2 L643,305.4"/>
<path d="M645.5,298.3 L646.5,304.6" stroke-width="0.9"/>
<path d="M643,298.7 L643,305.4" stroke-width="0.9"/>
<path d="M661.7,292 L668.5,290.9 L669.5,303.5 L662.5,304.2Z"/>
<path d="M664.5,291.5 L665.2,303.8" stroke-width="0.9"/>
<ellipse cx="674.5" cy="296" rx="3.3" ry="8.2" transform="rotate(-5 674.5 296)"/>
<path d="M675,288 L679.5,290 L680.5,301.5 L676,304"/>
<path d="M680,294 C681,293 684.3,290.2 685.8,288 C687.3,285.8 688.3,283.2 689.1,280.5 C689.9,277.8 690.6,273.8 690.8,271.5 C691,269.2 690.3,267.8 690.2,267"/>
<path d="M680.5,296.3 C681.6,295.1 685.6,291.8 687.3,289.2 C689,286.6 690,283.9 690.9,281 C691.8,278.1 692.4,273.8 692.6,271.5 C692.8,269.2 692.1,267.8 692,267"/>
<path d="M688.2,267.5 L687.5,262 L689,260 L689,257.5 L692,257.3 L692,260 L693.8,262 L693.3,267.5Z"/>
<path d="M686,333.5 L697,332.2 L697.5,341.8 L686,340.5 L681,337Z"/>
<path d="M686,333.5 L686,340.5" stroke-width="0.9"/>
<ellipse cx="698.5" cy="337" rx="2" ry="6.5" stroke-width="0.9"/>
<ellipse cx="701" cy="336.3" rx="2.4" ry="8" stroke-width="0.9"/>
<ellipse cx="703.5" cy="335.5" rx="2.8" ry="9.6"/>
<ellipse cx="706" cy="334.8" rx="2.9" ry="10.5"/>
<path d="M703,323 L704.5,320 L707,322"/>
<path d="M708,327 L713,326 L714,329 L710,331"/>
<path d="M709,333 L715.5,333.5 L716.5,337 L710,338"/>
<path d="M705,345.5 L708.5,346 L709,343"/>
<path d="M161,490.3 L172.6,487 L176.4,484.2 L171.7,483.4 L160,485.9" stroke-width="1"/>
<path d="M163.0,489.8L160.8,485.7M165.3,489.1L163.1,485.2M167.6,488.5L165.5,484.7M170.0,487.8L167.9,484.3M172.3,487.1L170.2,483.8" stroke-width="0.9"/>
<ellipse cx="157.2" cy="488.9" rx="4" ry="5.7" fill="#fff" stroke-width="1"/>
<path d="M155.2,488.3 L159.2,489.5" stroke-width="0.8"/>
<path d="M157.2,485.8 L157.2,492" stroke-width="0.8"/>
<path d="M309.7,510.9 L320.5,513.2 L325,512.4 L321.5,509.5 L310.9,506.3" stroke-width="1"/>
<path d="M311.6,511.4L311.6,506.5M313.8,511.8L313.7,507.2M315.9,512.3L315.8,507.8M318.1,512.7L317.9,508.5M320.2,513.2L320.1,509.1" stroke-width="0.9"/>
<ellipse cx="306.8" cy="507.7" rx="4.3" ry="5.5" fill="#fff" stroke-width="1"/>
<path d="M304.7,507.1 L308.9,508.2" stroke-width="0.8"/>
<path d="M306.8,504.7 L306.8,510.7" stroke-width="0.8"/>
<path d="M755.6,476 L767.3,479 L772,478.5 L768.3,475.5 L756.9,471.6" stroke-width="1"/>
<path d="M757.6,476.5L757.7,471.9M759.9,477.1L760.0,472.7M762.3,477.7L762.3,473.4M764.6,478.3L764.6,474.2M766.9,478.9L766.9,475.0" stroke-width="0.9"/>
<ellipse cx="753" cy="472.8" rx="4" ry="5.3" fill="#fff" stroke-width="1"/>
<path d="M751,472.3 L755,473.3" stroke-width="0.8"/>
<path d="M753,469.9 L753,475.7" stroke-width="0.8"/>
<path d="M638.4,436.1 L628.9,430.7 L623.7,429.5 L627.2,433.6 L636.2,439.7" stroke-width="1"/>
<path d="M636.8,435.1L635.7,439.3M634.9,434.1L633.9,438.0M633.0,433.0L632.0,436.8M631.1,431.9L630.2,435.6M629.2,430.9L628.4,434.4" stroke-width="0.9"/>
<circle cx="641.1" cy="440.2" r="6.3" fill="#fff" stroke-width="1"/>
<path d="M646.3,442 L643.4,444.9 L639.3,443.9 L638.3,439.8 L641.2,436.9 L645.2,438Z" stroke-width="0.9"/>
<path d="M748.5,159.7 L739,155 L734.2,154 L737.7,157.5 L746.7,162.8" stroke-width="1"/>
<path d="M746.8,158.8L746.2,162.5M744.9,157.9L744.4,161.4M743.0,157.0L742.5,160.4M741.1,156.0L740.7,159.3M739.3,155.1L738.9,158.2" stroke-width="0.9"/>
<circle cx="750.8" cy="163" r="5.2" fill="#fff" stroke-width="1"/>
<path d="M755.1,164.4 L752.7,166.9 L749.4,166 L748.5,162.7 L750.9,160.2 L754.2,161.1Z" stroke-width="0.9"/>
<path d="M718.6,112.3 L726.8,116.2 L731.1,116.8 L728.1,113.6 L720.3,109.2" stroke-width="1"/>
<path d="M720.2,113.1L720.7,109.4M721.8,113.9L722.3,110.3M723.4,114.6L723.8,111.2M725.0,115.4L725.4,112.1M726.7,116.1L727.0,113.0" stroke-width="0.9"/>
<circle cx="716.5" cy="109.2" r="4.8" fill="#fff" stroke-width="1"/>
<path d="M718.6,109.5 L716.4,111.8 L713.3,111 L712.5,107.9 L714.7,105.7 L717.8,106.5Z" stroke-width="0.9"/>
<path d="M109.5,197.8 L114.5,199.5 L117.6,202.4 L113.5,202.5 L109.5,201.5Z"/>
<path d="M112,198.5 L112,202" stroke-width="0.8"/>
<path d="M114.5,199.5 L114,202.5" stroke-width="0.9"/>
<path d="M97.5,191.5 L100.5,188.6 L104,189 L104,197.5 L101,199 L97.4,197Z" stroke-width="1.2"/>
<path d="M97.5,191.5 L101,193 L104,191.5" stroke-width="0.9"/>
<path d="M101,193 L101,199" stroke-width="0.9"/>
<ellipse cx="106" cy="195.9" rx="5" ry="6.5" fill="#fff" stroke-width="1.1"/>
<ellipse cx="107.3" cy="196.6" rx="2.3" ry="3.1" stroke-width="1"/>
<ellipse cx="107.8" cy="196.9" rx="1" ry="1.5" stroke-width="0.9"/>
<g transform="translate(604.7 411.7)"><path d="M0.8,4 L19.8,0 L19.8,3.6 L13.8,4.6 L13.3,6.6 L19.8,6 L19.8,10.2 L13.3,10.8 L12.3,13.6 L2.4,16.6 L0,14.3 L0.8,4 Z"/><path d="M2.4,4.5 L2.4,16.6 M13.8,4.6 L9.5,5.6 M13.3,10.8 L8.5,11.8" stroke-width="0.8"/><circle cx="8" cy="9.3" r="1.9" stroke-width="0.9"/></g>
<g transform="translate(713.7 136.5)"><path d="M0.8,4 L19.8,0 L19.8,3.6 L13.8,4.6 L13.3,6.6 L19.8,6 L19.8,10.2 L13.3,10.8 L12.3,13.6 L2.4,16.6 L0,14.3 L0.8,4 Z"/><path d="M2.4,4.5 L2.4,16.6 M13.8,4.6 L9.5,5.6 M13.3,10.8 L8.5,11.8" stroke-width="0.8"/><circle cx="8" cy="9.3" r="1.9" stroke-width="0.9"/></g>
<g transform="translate(748.5 127)"><path d="M0.8,4 L19.8,0 L19.8,3.6 L13.8,4.6 L13.3,6.6 L19.8,6 L19.8,10.2 L13.3,10.8 L12.3,13.6 L2.4,16.6 L0,14.3 L0.8,4 Z"/><path d="M2.4,4.5 L2.4,16.6 M13.8,4.6 L9.5,5.6 M13.3,10.8 L8.5,11.8" stroke-width="0.8"/><circle cx="8" cy="9.3" r="1.9" stroke-width="0.9"/></g>
<g transform="translate(139 216)"><path d="M0.8,4 L19.8,0 L19.8,3.6 L13.8,4.6 L13.3,6.6 L19.8,6 L19.8,10.2 L13.3,10.8 L12.3,13.6 L2.4,16.6 L0,14.3 L0.8,4 Z"/><path d="M2.4,4.5 L2.4,16.6 M13.8,4.6 L9.5,5.6 M13.3,10.8 L8.5,11.8" stroke-width="0.8"/><circle cx="8" cy="9.3" r="1.9" stroke-width="0.9"/></g>
<path d="M734.6,124.5 L741.1,130" stroke-width="1"/>
<path d="M741.4,116.5 L747.9,122" stroke-width="1"/>
<ellipse cx="738.0" cy="120.5" rx="2.08" ry="5.2" transform="rotate(40.2 738.0 120.5)" stroke-width="0.9"/>
<ellipse cx="740.2" cy="122.3" rx="2.08" ry="5.2" transform="rotate(40.2 740.2 122.3)" stroke-width="0.9"/>
<ellipse cx="742.3" cy="124.2" rx="2.08" ry="5.2" transform="rotate(40.2 742.3 124.2)" stroke-width="0.9"/>
<ellipse cx="744.5" cy="126" rx="2.3400000000000003" ry="5.2" transform="rotate(40.2 744.5 126)" fill="#fff" stroke-width="1"/>
<ellipse cx="744.7" cy="126.2" rx="1.1440000000000001" ry="2.3400000000000003" transform="rotate(40.2 744.7 126.2)" stroke-width="0.9"/>
<path d="M123.6,210.3 L129.6,215.8" stroke-width="1"/>
<path d="M131.4,201.7 L137.4,207.2" stroke-width="1"/>
<ellipse cx="127.5" cy="206.0" rx="2.32" ry="5.8" transform="rotate(42.5 127.5 206.0)" stroke-width="0.9"/>
<ellipse cx="129.5" cy="207.8" rx="2.32" ry="5.8" transform="rotate(42.5 129.5 207.8)" stroke-width="0.9"/>
<ellipse cx="131.5" cy="209.7" rx="2.32" ry="5.8" transform="rotate(42.5 131.5 209.7)" stroke-width="0.9"/>
<ellipse cx="133.5" cy="211.5" rx="2.61" ry="5.8" transform="rotate(42.5 133.5 211.5)" fill="#fff" stroke-width="1"/>
<ellipse cx="133.7" cy="211.7" rx="1.276" ry="2.61" transform="rotate(42.5 133.7 211.7)" stroke-width="0.9"/>
<path d="M767.6,90.5 C767.6,85.6 771.4,85.6 771.4,90.5 Z"/>
<path d="M768,90.5 L768,95.3"/>
<path d="M771,90.5 L771,95.3"/>
<ellipse cx="769.5" cy="97" rx="5.1" ry="1.6"/>
<path d="M767.7,98.6 L767.7,104"/>
<path d="M771.3,98.6 L771.3,104"/>
<path d="M767.3,104 L767.6,110.3 Q769.5,112.6 771.5,110.3 L771.8,104 Z" stroke-width="1.3"/>
<circle cx="690.3" cy="456.5" r="5.2"/>
<path d="M694.6,452.2 L700,451.3"/>
<path d="M695.3,458.8 L700,457.8"/>
<ellipse cx="700" cy="454.5" rx="1.5" ry="3.2"/>
<path d="M697,451.8 L697,458.3" stroke-width="0.9"/>
<path d="M713,461 C712.5,461.5 710.6,462.8 710,464 C709.4,465.2 709.2,466.5 709.4,468 C709.6,469.5 710.1,471.8 711,473 C711.9,474.2 713.7,475.2 715,475.5 C716.3,475.8 718.3,475.1 719,475" stroke-width="1"/>
<path d="M713,461 C713.7,460.8 715.7,459.6 717,459.5 C718.3,459.4 720.3,460.3 721,460.5" stroke-width="1"/>
<ellipse cx="719.5" cy="467.5" rx="3.6" ry="7.4" transform="rotate(-10 719.5 467.5)"/>
<ellipse cx="722.5" cy="467.2" rx="3.2" ry="6.6" transform="rotate(-10 722.5 467.2)" stroke-width="0.9"/>
<path d="M715,462 C715.3,462.8 716.8,465.2 717,467 C717.2,468.8 716.6,472 716.5,473" stroke-width="0.9"/>
<ellipse cx="726.5" cy="465" rx="2.6" ry="1.7" stroke-width="0.9"/>
<ellipse cx="724.5" cy="462" rx="1.8" ry="1.6" stroke-width="0.9"/>
<ellipse cx="726" cy="472.2" rx="1.9" ry="1.8" stroke-width="0.9"/>
<path d="M722,470 L727,468" stroke-width="0.9"/>
<path d="M782,450 L771.5,448.3 L769.3,449.5 L769.8,452 L780.5,456.8 L782.3,457.7"/>
<path d="M782.8,453.7 C783.9,454.4 788,456.2 789.5,458 C791,459.8 791.6,462.2 792,464.5 C792.4,466.8 792.5,469.2 792,471.5 C791.5,473.8 790.3,475.8 789,478 C787.7,480.2 784.8,483.4 784,484.5" stroke-width="0.9"/>
<path d="M781.6,449.5 C783.6,450.2 790.8,451.9 793.6,453.9 C796.5,455.9 797.8,458.8 798.7,461.5 C799.7,464.2 799.7,467.4 799.3,470.4 C798.9,473.3 797.5,476.7 796.2,479.2 C794.9,481.7 792.5,484.5 791.7,485.6"/>
<path d="M782.3,457.7 C783.1,458.4 786.2,460.3 787.3,462.2 C788.3,464.1 788.9,466.9 788.6,469.1 C788.3,471.3 787.1,473.1 785.4,475.4 C783.7,477.7 779.6,481.7 778.5,483"/>
<path d="M783,452.5 C784.2,453.2 788.2,454.8 790,456.5 C791.8,458.2 792.9,460.6 793.5,463 C794.1,465.4 794.3,468.4 793.8,471 C793.3,473.6 791.9,476.2 790.5,478.5 C789.1,480.8 786.3,483.9 785.5,485" stroke-width="0.9"/>
<path d="M782.5,455 C783.5,455.8 787.1,457.7 788.5,459.5 C789.9,461.3 790.6,463.8 791,466 C791.4,468.2 791.4,470.4 790.8,472.5 C790.2,474.6 789,476.5 787.5,478.5 C786,480.5 782.9,483.5 782,484.5" stroke-width="0.9"/>
<path d="M778.5,483 L784.8,486.8 L791.7,485.6"/>
<path d="M781.6,449.5 L782.3,457.7"/>
<ellipse cx="790.5" cy="484" rx="1.3" ry="1.1" stroke-width="0.9"/>
<path d="M781.5,486 L773,501"/>
<path d="M783.5,486.5 L775,501.5"/>
<path d="M772,501 L771.8,504 L775,505.3 L778,503.5 L776.8,500.8 L773,500.5Z"/>
<path d="M792.9,420.2 L797.2,421.8 L797.2,436 L792.9,434.9Z"/>
<path d="M797.2,421.8 L801.5,423.5 L802.5,441.7 L797.6,440.5 L797.2,436"/>
<path d="M802,428.2 L810.2,433.5 L810.2,444.8 L802.6,440.5"/>
<path d="M802.3,433.8 L810,438.8" stroke-width="0.9"/>
<path d="M793.5,427.5 L797,428.5" stroke-width="0.9"/>
<circle cx="799.5" cy="431.5" r="0.9" stroke-width="0.9"/>
<path d="M787.4,514 L789.2,513.3 L789.8,523.5 L787.4,522Z"/>
<path d="M791.3,512 L792.5,511.5 L793.3,521 L791.8,521.5Z"/>
<path d="M794.2,514.5 L796,514.5 L796,522 L794.5,522.5Z"/>
<path d="M791.1,520.4 L791.1,528.4 L796.3,530.8 L796.3,517.9"/>
<path d="M796.3,517.9 L804.9,523.1 L805.2,533.3 L796.3,529"/>
<path d="M659.8,463.8 C658.1,464.8 654.9,468.1 652.6,471 C650.3,473.9 645,481.6 642.5,485.4 C640,489.2 636,496 633.9,499.8 C631.8,503.6 628.1,511.1 626.6,514.2 C625.1,517.3 623.3,521.2 623,522.9 C622.7,524.6 622.3,525.9 624.5,527.2 C626.7,528.5 634.7,531.7 639.6,533 C644.5,534.3 655.4,536.2 661.2,536.6 C667,537 677.1,536.5 682.9,535.8 C688.7,535.1 699.9,532.8 704.5,531.5 C709.1,530.2 714.8,528 717.5,525.7 C720.2,523.4 723.1,517.3 724.7,514.2 C726.3,511.1 728.8,505 729.7,502.7 C730.6,500.4 731.2,498.2 731.1,496.9 C731,495.6 730.2,494.4 729,493.3 C727.8,492.2 725.1,490.6 721.8,489 C718.5,487.4 709.7,483.4 704.5,481.1 C699.3,478.8 688.1,474 682.9,471.7 C677.7,469.4 668.7,464.9 665.6,463.8 C662.5,462.7 661.5,462.8 659.8,463.8Z"/>
<path d="M662.7,466.6 C666.3,467.9 676.8,471.7 684.3,474.6 C691.8,477.5 700.2,480.8 707.4,484 C714.6,487.2 724,491.7 727.5,494 C731,496.3 728.7,496.2 728.5,498 C728.3,499.8 727.6,502.2 726.5,505 C725.4,507.8 723.8,511.5 722,514.5 C720.2,517.5 717,521.6 716,523" stroke-width="0.9"/>
<path d="M683,471.8 L685.5,471.5 L689,473.5" stroke-width="0.9"/>
<path d="M729,494 L741.2,486.1 L742,497 L733.3,505.6 L730,505"/>
<path d="M736.2,493.4L736.2,501.4M737.8,492.2L737.8,500.2M739.2,491.1L739.2,499.1" stroke-width="0.7"/>
<path d="M710.2,491.2 C708.3,490.7 704.5,489.9 698.7,488.3 C693,486.7 683.5,484 675.7,481.8 C667.9,479.6 656.5,475.8 651.9,475.3 C647.3,474.8 648.9,477.6 648,479 C647.1,480.4 643.4,482.1 646.8,484 C650.2,485.9 661.2,488.8 668.4,490.4 C675.6,491.9 683.1,493.1 690.1,493.3 C697.1,493.5 706.9,491.7 710.2,491.4"/>
<path d="M721.8,504.1 C722.4,503.2 725.4,499.8 725.4,498.4 C725.4,497 726.5,495.4 721.8,495.5 C717.1,495.6 706.2,498.4 697.3,499.1 C688.4,499.8 677.9,500.7 668.4,499.8 C658.9,498.9 645.5,494.1 640.3,494 C635.1,493.9 637.7,497.3 637,499 C636.3,500.7 632,502.3 636,504.1 C640,505.9 652.2,508.6 661.2,509.9 C670.2,511.2 680.5,512.7 690.1,512 C699.7,511.3 713.6,506.9 718.9,505.6 C724.2,504.3 721.3,504.4 721.8,504.1"/>
<path d="M711.7,522.9 C712.9,521.9 717.9,518.5 718.9,517.1 C719.9,515.7 722.3,514 717.5,514.2 C712.7,514.4 699.5,517.8 690.1,518.5 C680.7,519.2 670.9,519.5 661.2,518.5 C651.5,517.5 637,513 631.7,512.8 C626.4,512.5 630,515.6 629.5,517 C629,518.4 624.7,519.7 628.8,521.4 C632.9,523.1 645,526 654,527.2 C663,528.4 673.3,529.2 682.9,528.6 C692.5,528 706.9,524.4 711.7,523.6"/>
<path d="M648,482 L657,485.5" stroke-width="0.8"/>
<path d="M637,502 L646,504.5" stroke-width="0.8"/>
<path d="M630,519.5 L638,521.5" stroke-width="0.9"/>
<path d="M613.2,538.5 L613.2,546 L617,545.3 L628.3,542.7 L628.8,551.8 L616,554.5 L613,553 L613.5,549.5 L617,548.5 L617,546.5 L613.2,546"/>
<ellipse cx="623.3" cy="547.5" rx="1.1" ry="0.9" stroke-width="0.9"/>
<path d="M194,431.5 C199.3,433.6 215.4,440.4 225.8,444.3 C236.2,448.2 248.2,452.1 256.4,454.7 C264.6,457.2 268.4,458 275,459.6 C281.6,461.2 288.2,463.3 296,464.3 C303.8,465.3 312.5,466.4 322,465.8 C331.5,465.2 341.4,463.3 353,460.5 C364.6,457.7 378.6,452.5 391.3,449.1 C404,445.8 423,441.8 429.4,440.4"/>
<path d="M194.6,435.1 C199.8,437 215.5,443 225.8,446.7 C236.1,450.4 247.4,454.4 256.4,457.1 C265.4,459.8 272.7,461.3 280,463 C287.3,464.7 293,466.3 300,467.2 C307,468.1 313.1,469.2 322,468.5 C330.9,467.8 341.6,465.7 353.2,463 C364.8,460.3 378.4,455.8 391.3,452.5 C404.2,449.2 423.8,445 430.3,443.5"/>
<path d="M194,437.6 C199.3,439.5 215.4,445.5 225.8,449.2 C236.2,452.9 247.4,456.8 256.4,459.6 C265.4,462.4 272.7,464.3 280,466 C287.3,467.7 293,469.2 300,470 C307,470.8 314,471.4 322,471 C330,470.6 341.3,468.9 348,467.5 C354.7,466.1 359.7,463.3 362,462.5" stroke-width="0.9"/>
<path d="M192.2,440 C197.8,441.9 215.1,447.9 225.8,451.6 C236.5,455.3 247.4,459.1 256.4,462 C265.4,464.9 272.7,467.2 280,469 C287.3,470.8 293,472.2 300,473 C307,473.8 314.5,474.3 322,474 C329.5,473.7 338.7,472.3 345,471 C351.3,469.7 357.5,466.8 360,466"/>
<path d="M275.2,459.5 L275.2,455.1"/>
<path d="M275.2,455.1 C280.1,456.1 295.4,460.5 304.7,461.2 C313.9,461.9 322.9,460.6 330.7,459.5 C338.5,458.4 348,455.2 351.5,454.3"/>
<path d="M351.5,454.3 L352.3,459.5"/>
<path d="M429.4,440.4 L431,442.3 L430.3,443.5"/>
<path d="M357,459.5 L428,442" stroke-width="0.6" stroke-dasharray="3,3"/>
<path d="M187.3,424.1 L193.5,427.5 L194,431.5 L192,434 L189.5,431.5 L187.3,424.1"/>
<path d="M191,433.5 L191.5,440.6 L194,441"/>
<ellipse cx="190.8" cy="428.8" rx="1.2" ry="1.6" stroke-width="0.9"/>
<path d="M225,444 L228,447.5 L227,450" stroke-width="0.9"/>
<path d="M246,451 L250,455.5 L258,456 L262,458.5" stroke-width="0.9"/>
<path d="M292,467.5 L300,470" stroke-width="1.2"/>
<path d="M185.8,477.5 L190.3,479.3 L195.8,482.1"/>
<path d="M186.7,479.3 L191.3,485.8 L193.1,487.6"/>
<path d="M185.8,477.5 L186.7,479.3"/>
<path d="M195.8,482.1 C202.8,485.8 226.4,498.6 238,504.1 C249.6,509.6 256.4,512 265.6,515.1 C274.8,518.2 283,521.3 293.1,522.5 C303.2,523.7 315.7,523.7 326.1,522.5 C336.5,521.3 350.6,516.3 355.5,515.1"/>
<path d="M192.2,486.7 C200.4,490.4 229.2,503.5 241.7,508.7 C254.2,513.9 258.8,515.3 267.4,517.9 C276,520.5 284.3,523.1 293.1,524.3 C301.9,525.5 315.5,524.9 320,525" stroke-width="0.9"/>
<path d="M193.1,487.6 C200.6,491.4 225.9,504.9 238,510.5 C250.1,516.1 256.4,518.3 265.6,521.5 C274.8,524.7 283,528.3 293.1,529.8 C303.2,531.3 315.7,532.1 326.1,530.7 C336.5,529.3 350.6,523 355.5,521.5"/>
<path d="M355.5,515.1 L358.2,517 L355.5,521.5"/>
<path d="M344.5,515 L344.5,512.4 L350,512.4 L350,515"/>
<path d="M241.7,505.5 L241.7,510 L251.8,514.5 L251.8,510"/>
<path d="M252,509.5 L253,507 L255,508 L255,510.5" stroke-width="0.9"/>
<path d="M469.6,463.8 C470.5,463.4 474.4,461.6 476,461 C477.6,460.4 480.2,459.7 481.9,459.4 C483.6,459.1 481.4,456.5 488.9,458.5 C496.4,460.5 531,471.6 538.2,474.3 C545.4,477 542.1,477.2 542.6,478.7 C543.1,480.2 543.7,481.2 541.7,485.8 C539.7,490.4 531.8,505.9 527.6,513 C523.4,520.1 513,535.4 510,539.4 C507,543.4 506.9,542.6 504.8,542.9 C502.7,543.2 496.5,542.5 494.2,542 C491.9,541.5 488.1,539.7 487.2,539.4"/>
<path d="M471.5,465.5 C473,465 480.2,462.1 482.5,461.5 C484.8,460.9 481.8,459 489,461 C496.2,463 529.7,474 536.5,476.5 C543.3,479 539.5,478.3 539.8,479.5 C540.1,480.7 541,481.1 539,485.5 C537,489.9 529.1,505.6 525,512.5 C520.9,519.4 510.9,533.8 508,537.5 C505.1,541.2 505.4,540.2 503.5,540.5 C501.6,540.8 496.1,540.3 494,540 C491.9,539.7 488.8,538.3 488,538" stroke-width="0.9"/>
<path d="M487.5,536 L494,536.5 L500,537.5" stroke-width="0.9"/>
<path d="M398.4,517.4 C398.9,515.4 402,511.1 404.5,507.7 C407,504.3 413.6,495.6 416.9,491.9 C420.2,488.2 425.9,482.5 429.2,479.6 C432.5,476.7 438.7,471.8 441.5,469.9 C444.3,468 447.7,466.1 450.3,465.5 C452.9,464.9 456.6,464.6 460.8,465.5 C465,466.4 476.3,470.6 481.9,472.6 C487.5,474.6 499.3,479 503,480.5 C506.7,482 508.9,482.9 510,484 C511.1,485.1 511.3,486.7 510.9,488.4 C510.5,490.1 508,494.8 507,497 C506,499.2 504.6,501.9 503.3,505 C502,508.1 499,516.1 497.1,520 C495.2,523.9 491.1,530.8 489.2,534 C487.3,537.2 484.4,542.1 483.1,543.7 C481.8,545.3 481.4,545.7 479.6,546.3 C477.8,546.9 472.4,548.3 469.9,548.1 C467.4,547.9 465.1,546.3 460.8,544.7 C456.5,543.1 444.6,538.5 438,535.9 C431.4,533.3 416.5,527.1 411.6,525.3 C406.7,523.5 402.8,523.8 401,522.7 C399.2,521.6 397.9,519.4 398.4,517.4Z" fill="#fff"/>
<path d="M508.5,483.5 C507.2,485 503.4,489.4 501,492.5 C498.6,495.6 496.2,498.8 494,502 C491.8,505.2 489.7,509 488,512 C486.3,515 485.4,517 484,520 C482.6,523 480.7,527.3 479.5,530 C478.3,532.7 477.8,533.8 476.9,536 C476,538.2 474.9,541 474,543 C473.1,545 471.7,547.2 471.2,548.1" stroke-width="0.9"/>
<path d="M510,485.5 C508.8,487 505.2,491.6 503,494.5 C500.8,497.4 498.6,500 496.5,503 C494.4,506 492.1,509.5 490.5,512.5 C488.9,515.5 487.9,517.9 486.6,520.8 C485.3,523.7 483.5,527.8 482.5,530 C481.5,532.2 481.2,532.2 480.4,534 C479.6,535.8 478.4,538.8 477.5,541 C476.6,543.2 475.6,546.2 475.2,547.2" stroke-width="0.9"/>
<path d="M411.6,507.7 L452,471.7" stroke-width="0.9"/>
<path d="M415.1,511.3 L452,479.6" stroke-width="0.9"/>
<path d="M421,510 L453.5,484" stroke-width="0.9"/>
<path d="M427.4,507.7 L453.8,488.6" stroke-width="0.9"/>
<path d="M436,505 L455,496.5" stroke-width="0.9"/>
<path d="M408.9,515.7 L448.5,505.1" stroke-width="0.9"/>
<path d="M450.3,534.1 L460.8,513" stroke-width="0.9"/>
<path d="M456,536 L464.5,520" stroke-width="0.9"/>
<path d="M464.5,539 L468,531" stroke-width="0.9"/>
</g>
<g font-family="'Liberation Serif', serif" font-size="15.5" fill="#111" style="will-change:transform">
<text x="106.04" y="104.42" textLength="25.24" lengthAdjust="spacingAndGlyphs">117</text><text x="231.32" y="132.42" textLength="26.08" lengthAdjust="spacingAndGlyphs">145</text><text x="306.46" y="156.84" textLength="26.78" lengthAdjust="spacingAndGlyphs">195</text><text x="369.30" y="163.42" textLength="17.02" lengthAdjust="spacingAndGlyphs">80</text><text x="406.30" y="90.00" textLength="15.00" lengthAdjust="spacingAndGlyphs">52</text><text x="506.30" y="96.28" textLength="16.00" lengthAdjust="spacingAndGlyphs">75</text><text x="565.16" y="78.56" textLength="16.70" lengthAdjust="spacingAndGlyphs">70</text><text x="454.42" y="120.42" textLength="17.00" lengthAdjust="spacingAndGlyphs">40</text><text x="424.58" y="128.00" textLength="16.34" lengthAdjust="spacingAndGlyphs">55</text><text x="415.72" y="158.14" textLength="17.70" lengthAdjust="spacingAndGlyphs">35</text><text x="469.72" y="170.28" textLength="16.68" lengthAdjust="spacingAndGlyphs">50</text><text x="606.72" y="114.28" textLength="16.68" lengthAdjust="spacingAndGlyphs">60</text><text x="567.30" y="194.42" textLength="16.68" lengthAdjust="spacingAndGlyphs">65</text><text x="525.30" y="213.00" textLength="16.00" lengthAdjust="spacingAndGlyphs">90</text><text x="644.18" y="112.28" textLength="25.74" lengthAdjust="spacingAndGlyphs">170</text><text x="695.90" y="98.28" textLength="26.60" lengthAdjust="spacingAndGlyphs">190</text><text x="776.18" y="100.00" textLength="26.42" lengthAdjust="spacingAndGlyphs">195</text><text x="733.32" y="111.42" textLength="26.76" lengthAdjust="spacingAndGlyphs">185</text><text x="770.90" y="128.42" textLength="26.08" lengthAdjust="spacingAndGlyphs">175</text><text x="684.90" y="162.28" textLength="26.40" lengthAdjust="spacingAndGlyphs">175</text><text x="744.18" y="183.42" textLength="26.42" lengthAdjust="spacingAndGlyphs">180</text><text x="69.32" y="209.00" textLength="26.42" lengthAdjust="spacingAndGlyphs">190</text><text x="96.18" y="224.00" textLength="26.42" lengthAdjust="spacingAndGlyphs">185</text><text x="123.32" y="246.56" textLength="26.08" lengthAdjust="spacingAndGlyphs">175</text><text x="226.90" y="281.00" textLength="16.40" lengthAdjust="spacingAndGlyphs">10</text><text x="291.58" y="298.00" textLength="16.70" lengthAdjust="spacingAndGlyphs">95</text><text x="225.58" y="318.00" textLength="17.70" lengthAdjust="spacingAndGlyphs">25</text><text x="255.30" y="346.28" textLength="16.68" lengthAdjust="spacingAndGlyphs">85</text><text x="78.72" y="372.00" textLength="17.68" lengthAdjust="spacingAndGlyphs">20</text><text x="529.90" y="295.00" textLength="26.42" lengthAdjust="spacingAndGlyphs">140</text><text x="621.58" y="293.42" textLength="16.34" lengthAdjust="spacingAndGlyphs">55</text><text x="651.30" y="286.42" textLength="16.00" lengthAdjust="spacingAndGlyphs">40</text><text x="589.30" y="308.28" textLength="17.02" lengthAdjust="spacingAndGlyphs">30</text><text x="677.30" y="327.42" textLength="16.00" lengthAdjust="spacingAndGlyphs">45</text><text x="610.90" y="405.42" textLength="26.42" lengthAdjust="spacingAndGlyphs">175</text><text x="634.90" y="427.42" textLength="26.42" lengthAdjust="spacingAndGlyphs">180</text><text x="418.86" y="427.42" textLength="8.20" lengthAdjust="spacingAndGlyphs">5</text><text x="324.04" y="450.00" textLength="26.78" lengthAdjust="spacingAndGlyphs" fill="#123a4c">165</text><text x="680.90" y="446.00" textLength="26.08" lengthAdjust="spacingAndGlyphs">110</text><text x="709.32" y="454.00" textLength="26.08" lengthAdjust="spacingAndGlyphs">115</text><text x="764.32" y="443.84" textLength="26.08" lengthAdjust="spacingAndGlyphs">120</text><text x="788.04" y="414.42" textLength="26.42" lengthAdjust="spacingAndGlyphs">130</text><text x="738.46" y="461.70" textLength="26.44" lengthAdjust="spacingAndGlyphs">125</text><text x="148.90" y="477.28" textLength="26.08" lengthAdjust="spacingAndGlyphs">155</text><text x="227.90" y="491.28" textLength="26.76" lengthAdjust="spacingAndGlyphs">150</text><text x="296.76" y="497.70" textLength="26.94" lengthAdjust="spacingAndGlyphs">160</text><text x="532.44" y="518.56" textLength="17.86" lengthAdjust="spacingAndGlyphs">25</text><text x="427.46" y="552.00" textLength="17.76" lengthAdjust="spacingAndGlyphs">15</text><text x="582.72" y="551.98" textLength="26.20" lengthAdjust="spacingAndGlyphs">200</text><text x="690.18" y="547.28" textLength="26.42" lengthAdjust="spacingAndGlyphs">105</text><text x="788.18" y="547.28" textLength="26.42" lengthAdjust="spacingAndGlyphs">135</text>
</g>
</svg>
</body></html>
